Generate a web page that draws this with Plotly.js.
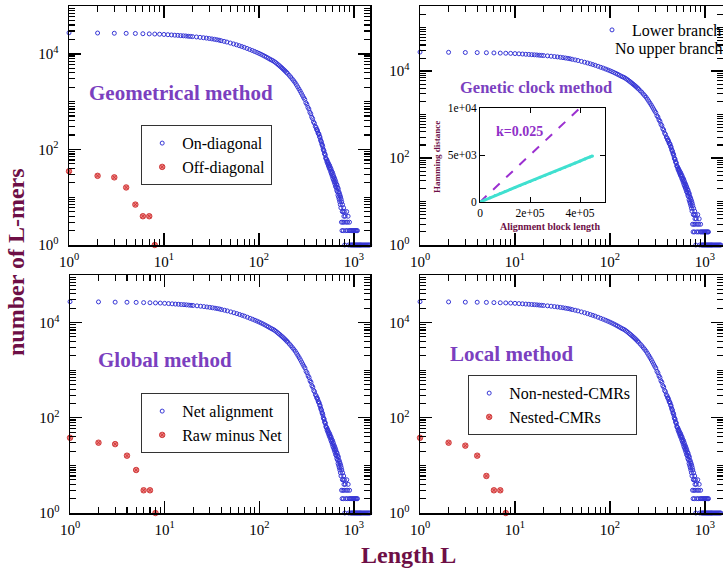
<!DOCTYPE html>
<html>
<head>
<meta charset="utf-8">
<script src="https://cdn.plot.ly/plotly-3.0.1.min.js"></script>
<style>html,body{margin:0;padding:0;background:#fff;}#chart{width:723px;height:570px;}</style>
</head>
<body>
<div id="chart"></div>
<script>
// ---- Data ----
// Length L of the blue (main) series, and the number of L-mers at each L (same curve in all four panels)
const lengths = [1,2,3,4,5,6,7,8,9,10,11,12,13,14,15,16,17,18,19,20,
  22,24,26,28,30,32,34,36,38,40,43,46,50,54,58,62,66,70,75,80,85,90,95,100,
  105,110,115,120,125,130,135,140,145,150,155,160,165,170,175,180,185,190,195,200,
  208,216,224,232,240,248,256,264,272,280,288,296,304,312,320,328,336,344,352,360,368,376,384,392,400,
  405,410,415,420,425,430,435,440,445,450,455,460,465,470,475,480,485,490,495,500,
  505,510,515,520,525,530,535,540,545,550,555,560,565,570,575,580,585,590,595,600,
  605,610,615,620,625,630,635,640,645,650,655,660,665,670,675,680,685,690,695,
  700,705,710,715,720,725,730,735,740,745,750,755,760,765,770,775,780,785,790,795,800,
  810,820,830,840,850,860,870,880,890,900,910,920,930,940,950,960,970,980,990,1000,
  1010,1020,1030,1040,1050,1060,1070,1080,1090,1100,1120,1140,1160,1180,1200,1230,1260,1290,1320,1350,1380,1410,1440,1470];
const mainCounts = [27500,27200,26900,26800,26600,26300,26100,25900,25700,25400,25100,24800,24500,24300,24000,23800,23600,23300,23100,22900,
  22500,22100,21700,21300,20900,20500,20100,19700,19300,18800,18200,17600,16800,16100,15450,14800,14200,13650,12950,12300,11750,11200,10700,10230,
  9770,9330,8910,8510,8130,7760,7460,7190,6890,6550,6220,5890,5600,5310,5050,4790,4550,4320,4100,3890,
  3560,3270,2990,2740,2510,2260,2040,1840,1660,1490,1340,1210,1110,950,880,760,700,600,556,474,440,375,352,305,288,
  262,258,240,218,214,205,183,180,160,149,144,128,124,115,101,96,93,82,80,76,
  66,64,62,55,58,50,53,45,49,41,46,38,42,34,39,31,35,28,33,25,
  30,23,27,21,25,19,23,17,21,16,19,14,18,13,16,11,15,10,13,
  9,12,8,11,7,10,6,9,3,8,2,5,7,3,5,2,6,4,3,5,1,
  4,2,3,5,2,3,4,1,2,3,2,1,2,1,2,1,2,1,2,1,
  2,1,2,1,2,1,2,1,2,1,1,1,1,1,1,1,1,1,1,1,1,1,1,1];
const onDiagonal = mainCounts, lowerBranch = mainCounts, netAlignment = mainCounts, nonNestedCMRs = mainCounts;

// Red (small) series
const smallL = [1,2,3,4,5,6,7,8];
const offDiagonal = [35,28,26,16,7,4,4,1];
const rawMinusNet = [38,30,28,16,8,3,3,1];
const nestedCMRs = [38,30,26,16,6,3,3,1];

// Inset: Hamming distance vs alignment block length
const blockLength = [0,20000,40000,60000,80000,100000,120000,140000,160000,180000,200000,220000,240000,260000,280000,300000,320000,340000,360000,380000,400000,420000,440000,450000];
const hammingDist = [0,230,460,690,900,1120,1330,1540,1760,1970,2180,2400,2620,2840,3050,3270,3490,3700,3920,4140,4360,4580,4790,4900];
const clockX = [0, 400000];
const clockY = [0, 10000];

// Tick labels
const decadeVals = [1, 10, 100, 1000];
const xTickText = ['10<sup>0</sup>','10<sup>1</sup>','10<sup>2</sup>','10<sup>3</sup>'];
const yMajorVals = [1, 100, 10000];
const yTickText = ['10<sup>0</sup>','10<sup>2</sup>','10<sup>4</sup>'];
const insetXTicks = [0, 200000, 400000];
const insetXText = ['0','2e+05','4e+05'];
const insetYTicks = [0, 5000, 10000];
const insetYText = ['0','5e+03','1e+04'];

// ---- Styles ----
const SERIF = 'Liberation Serif, Times New Roman, serif';
const BLUE = '#3636d6';
const MAROON = '#6e0f46';
const PURPLE = '#7b3fbf';
const W = 723, H = 570;
const px = v => v / W;
const py = v => (H - v) / H;

const minorVals = [];
for (let d = 0; d <= 5; d++) for (let m = 2; m <= 10; m++) minorVals.push(m * Math.pow(10, d));

function logX(domain, rmax, anchor) {
  return {type:'log', domain, range:[0, rmax], anchor,
    tickmode:'array', tickvals:decadeVals, ticktext:xTickText,
    ticks:'inside', ticklen:12, tickwidth:1.4, tickcolor:'black',
    showline:true, linewidth:1.5, linecolor:'black', mirror:'ticks',
    showgrid:false, zeroline:false, ticklabelstandoff:2,
    minor:{tickmode:'array', tickvals:minorVals, ticks:'inside', ticklen:6, tickwidth:1.1, tickcolor:'black', showgrid:false},
    tickfont:{family:SERIF, size:15, color:'black'}};
}
function logY(domain, rmax, anchor) {
  return {type:'log', domain, range:[0, rmax], anchor,
    tickmode:'array', tickvals:yMajorVals, ticktext:yTickText,
    ticks:'inside', ticklen:12, tickwidth:1.4, tickcolor:'black',
    showline:true, linewidth:1.5, linecolor:'black', mirror:'ticks',
    showgrid:false, zeroline:false, ticklabelstandoff:6,
    minor:{tickmode:'array', tickvals:minorVals, ticks:'inside', ticklen:6, tickwidth:1.1, tickcolor:'black', showgrid:false},
    tickfont:{family:SERIF, size:15, color:'black'}};
}

const blueMarker = {symbol:'circle-open', size:4, color:BLUE, line:{width:1, color:BLUE}};
const redMarker = {symbol:'circle-x', size:5.5, color:'#ef8080', line:{width:0.9, color:'#cc3434'}};

const traces = [
  {x:lengths, y:onDiagonal, xaxis:'x', yaxis:'y', mode:'markers', name:'On-diagonal', marker:blueMarker, legend:'legend', cliponaxis:false},
  {x:smallL, y:offDiagonal, xaxis:'x', yaxis:'y', mode:'markers', name:'Off-diagonal', marker:redMarker, legend:'legend', cliponaxis:false},
  {x:lengths, y:lowerBranch, xaxis:'x2', yaxis:'y2', mode:'markers', name:'Lower branch', marker:blueMarker, legend:'legend2', cliponaxis:false},
  {x:lengths, y:netAlignment, xaxis:'x3', yaxis:'y3', mode:'markers', name:'Net alignment', marker:blueMarker, legend:'legend3', cliponaxis:false},
  {x:smallL, y:rawMinusNet, xaxis:'x3', yaxis:'y3', mode:'markers', name:'Raw minus Net', marker:redMarker, legend:'legend3', cliponaxis:false},
  {x:lengths, y:nonNestedCMRs, xaxis:'x4', yaxis:'y4', mode:'markers', name:'Non-nested-CMRs', marker:blueMarker, legend:'legend4', cliponaxis:false},
  {x:smallL, y:nestedCMRs, xaxis:'x4', yaxis:'y4', mode:'markers', name:'Nested-CMRs', marker:redMarker, legend:'legend4', cliponaxis:false},
  {x:clockX, y:clockY, xaxis:'x5', yaxis:'y5', mode:'lines', showlegend:false, line:{color:'#9b30d0', width:2, dash:'dash'}},
  {x:blockLength, y:hammingDist, xaxis:'x5', yaxis:'y5', mode:'lines+markers', showlegend:false, line:{color:'#40e0d0', width:3}, marker:{size:3, color:'#40e0d0'}}
];

function legendAt(x, y, border) {
  return {x, y, xanchor:'left', yanchor:'top', bgcolor: border ? 'white' : 'rgba(0,0,0,0)',
    bordercolor:'#333', borderwidth: border ? 1.2 : 0,
    font:{family:SERIF, size:16, color:'black'}, tracegroupgap:0, itemwidth:30};
}

const inset = {
  x: {domain:[px(480), px(605)], range:[0, 500000], anchor:'y5', tickmode:'array', tickvals:insetXTicks, ticktext:insetXText,
      ticks:'inside', ticklen:5, tickcolor:'black', showline:true, linecolor:'black', linewidth:1, mirror:'ticks',
      showgrid:false, zeroline:false, tickfont:{family:SERIF, size:11.5, color:'black'}},
  y: {domain:[py(202), py(108)], range:[0, 10000], anchor:'x5', tickmode:'array', tickvals:insetYTicks, ticktext:insetYText,
      ticks:'inside', ticklen:5, tickcolor:'black', showline:true, linecolor:'black', linewidth:1, mirror:'ticks',
      showgrid:false, zeroline:false, tickfont:{family:SERIF, size:11.5, color:'black'}}
};

function ann(text, x, y, size, color, extra) {
  return Object.assign({text, x:px(x), y:py(y), xref:'paper', yref:'paper', showarrow:false,
    xanchor:'center', yanchor:'middle', font:{family:SERIF, size, color}}, extra || {});
}

const layout = {
  width:W, height:H, margin:{l:0, r:0, t:0, b:0, autoexpand:false},
  paper_bgcolor:'white', plot_bgcolor:'rgba(0,0,0,0)',
  font:{family:SERIF},
  xaxis: logX([px(69), px(370)], 3.17, 'y'),
  yaxis: logY([py(245), py(6)], 5, 'x'),
  xaxis2: logX([px(420), 1], 3.19, 'y2'),
  yaxis2: logY([py(245), py(6)], 5.5, 'x2'),
  xaxis3: logX([px(70), px(370)], 3.17, 'y3'),
  yaxis3: logY([py(513), py(275)], 5, 'x3'),
  xaxis4: logX([px(420), 1], 3.19, 'y4'),
  yaxis4: logY([py(513), py(275)], 5, 'x4'),
  xaxis5: inset.x, yaxis5: inset.y,
  legend: legendAt(px(141), py(125), true),
  legend2: legendAt(px(592), py(13), false),
  legend3: legendAt(px(141), py(393), true),
  legend4: legendAt(px(468), py(375), true),
  annotations: [
    ann('<b>Geometrical method</b>', 181, 93, 21, PURPLE),
    ann('<b>Genetic clock method</b>', 536, 87, 16.5, PURPLE),
    ann('<b>Global method</b>', 164.5, 360, 21, PURPLE),
    ann('<b>Local method</b>', 511, 354, 21, PURPLE),
    ann('No upper branch', 613, 49, 16, 'black', {xanchor:'left'}),
    ann('<b>k=0.025</b>', 519, 131, 14, '#9030c8'),
    ann('<b>Hamming distance</b>', 437, 157, 9, MAROON, {textangle:-90}),
    ann('<b>Alignment block length</b>', 550, 226, 10, MAROON),
    ann('<b>number of L-mers</b>', 16, 262, 24, MAROON, {textangle:-90}),
    ann('<b>Length L</b>', 408, 555, 24, MAROON)
  ]
};

Plotly.newPlot('chart', traces, layout, {staticPlot:true, displayModeBar:false});
</script>
</body>
</html>
